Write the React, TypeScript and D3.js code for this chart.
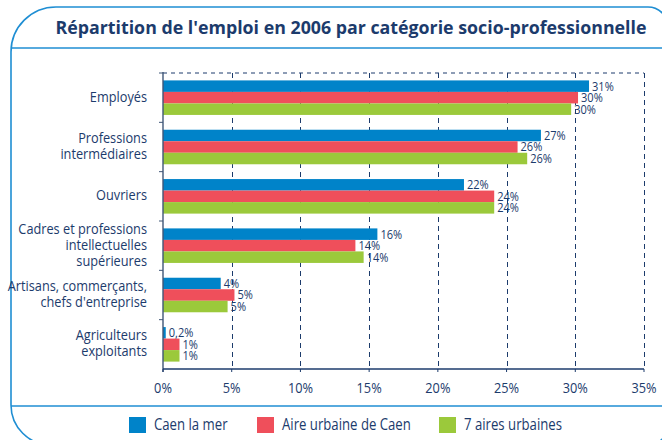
import React from 'react'
import * as d3 from 'd3'

const categories = [
  ['Employés'],
  ['Professions', 'intermédiaires'],
  ['Ouvriers'],
  ['Cadres et professions', 'intellectuelles', 'supérieures'],
  ['Artisans, commerçants,', "chefs d'entreprise"],
  ['Agriculteurs', 'exploitants'],
]
const series = ['Caen la mer', 'Aire urbaine de Caen', '7 aires urbaines']
const colors = ['#0083c9', '#ef4f5b', '#9bc93b']
const caenMer = [31.0, 27.5, 21.9, 15.6, 4.2, 0.2]
const aireCaen = [30.2, 25.8, 24.1, 14.0, 5.2, 1.2]
const septAires = [29.7, 26.5, 24.1, 14.6, 4.7, 1.2]
const labelsCaenMer = ['31%', '27%', '22%', '16%', '4%', '0,2%']
const labelsAireCaen = ['30%', '26%', '24%', '14%', '5%', '1%']
const labelsSeptAires = ['30%', '26%', '24%', '14%', '5%', '1%']
const xTicks = [0, 5, 10, 15, 20, 25, 30, 35]

const navy = '#1c3b6c'
const frame = '#1f8ed3'
const font = "'Open Sans', sans-serif"
const SX = 0.85 // the original face is condensed

// text squeezed horizontally around its anchor
function Narrow({ x, y, anchor = 'start', size, children }: any) {
  return (
    <g transform={`translate(${x},${y}) scale(${SX},1)`}>
      <text x={0} y={0} textAnchor={anchor} dominantBaseline="middle" fontSize={size} fill={navy}>
        {children}
      </text>
    </g>
  )
}

export default function App() {
  const W = 662, H = 440
  const left = 163, right = 644, top = 73, bottom = 369

  const x = d3.scaleLinear().domain([0, 35]).range([left, right])
  const keys = categories.map((c, i) => String(i))
  const y = d3.scaleBand().domain(keys).range([top, bottom]).paddingInner(0.3).paddingOuter(0.15)
  const ys = d3.scaleBand().domain(series).range([0, y.bandwidth()])

  const values = [caenMer, aireCaen, septAires]
  const labels = [labelsCaenMer, labelsAireCaen, labelsSeptAires]

  return (
    <svg width={W} height={H} style={{ position: 'absolute', left: 0, top: 0 }} fontFamily={font}>
      <rect width={W} height={H} fill="#fff" />
      {/* frame */}
      <path
        d="M51,445 A40,40 0 0 1 11,405 L11,52 A45,45 0 0 1 56,7 L648,7 A20,20 0 0 1 668,27 L668,425 A20,20 0 0 1 648,445 Z"
        fill="none" stroke={frame} strokeWidth={1.6}
      />
      <line x1={11} x2={W} y1={48} y2={48} stroke={frame} strokeWidth={1.6} />
      <line x1={11} x2={W} y1={406} y2={406} stroke={frame} strokeWidth={1.6} />
      <text x={351} y={34} textAnchor="middle" fontSize={17.8} fontWeight="bold" fill={navy}>
        Répartition de l'emploi en 2006 par catégorie socio-professionnelle
      </text>

      {/* grid */}
      <line x1={left} x2={right} y1={top} y2={top} stroke={navy} strokeDasharray="4,4" />
      {xTicks.filter(t => t > 0).map(t => (
        <line key={t} x1={Math.round(x(t)) + 0.5} x2={Math.round(x(t)) + 0.5} y1={top} y2={bottom}
          stroke={navy} strokeDasharray="5,4" />
      ))}

      {/* bars */}
      {categories.map((c, i) => (
        <g key={i}>
          {series.map((s, j) => {
            const yy = (y(String(i)) as number) + (ys(s) as number)
            return (
              <g key={s}>
                <rect x={x(0)} y={yy} width={x(values[j][i]) - x(0)} height={ys.bandwidth()} fill={colors[j]} />
                <Narrow x={x(values[j][i]) + 3} y={yy + ys.bandwidth() / 2 + 1} size={13}>
                  {labels[j][i]}
                </Narrow>
              </g>
            )
          })}
        </g>
      ))}

      {/* left axis */}
      <line x1={left} x2={left} y1={top - 1} y2={bottom + 3} stroke="#3f5677" strokeWidth={1.4} />
      {keys.map(k => (
        <line key={k} x1={left - 4} x2={left} y1={(y(k) as number) - y.step() * 0.15}
          y2={(y(k) as number) - y.step() * 0.15} stroke="#3f5677" />
      ))}
      {categories.map((c, i) => {
        const cy = (y(String(i)) as number) + y.bandwidth() / 2
        return c.map((line, l) => (
          <Narrow key={i + '-' + l} x={147} y={cy + (l - (c.length - 1) / 2) * 16} anchor="end" size={15}>
            {line}
          </Narrow>
        ))
      })}

      {/* bottom axis */}
      <line x1={left} x2={right} y1={bottom} y2={bottom} stroke={navy} strokeWidth={1.4} />
      {xTicks.map(t => (
        <g key={t}>
          <line x1={x(t)} x2={x(t)} y1={bottom} y2={bottom + 3} stroke={navy} />
          <Narrow x={x(t)} y={bottom + 20} anchor="middle" size={15}>{t}%</Narrow>
        </g>
      ))}

      {/* legend */}
      {[129, 257, 439].map((lx, j) => (
        <g key={j}>
          <rect x={lx} y={417} width={17} height={16} fill={colors[j]} />
          <Narrow x={lx + 25} y={426} size={15.5}>{series[j]}</Narrow>
        </g>
      ))}
    </svg>
  )
}
